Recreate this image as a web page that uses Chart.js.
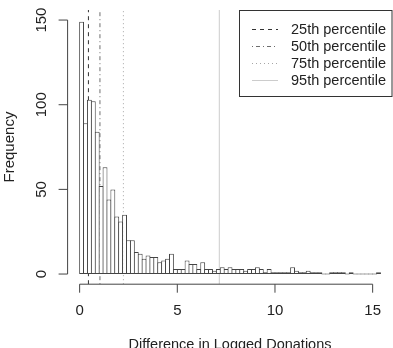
<!DOCTYPE html>
<html>
<head>
<meta charset="utf-8">
<script src="https://cdn.jsdelivr.net/npm/chart.js@4.4.0/dist/chart.umd.min.js"></script>
<style>
  html, body { margin: 0; padding: 0; background: #fff; }
  #wrap { width: 393px; height: 348px; }
</style>
</head>
<body>
<div id="wrap"><canvas id="hist" width="393" height="348"></canvas></div>
<script>
// histogram bins start at 0, width 0.2
const binWidth = 0.2;
const counts = [
  149, 89, 103, 102, 84, 52, 63, 44, 50, 34,
  31, 35, 20, 20, 13, 12, 9, 11, 10, 10,
  7, 8, 9, 12, 3, 3, 3, 8, 6, 6,
  3, 7, 3, 3, 2, 3, 4, 3, 4, 3,
  3, 3, 2, 3, 3, 4, 3, 1, 3, 1,
  1, 1, 1, 1, 4, 2, 1, 1, 2, 1,
  1, 1, 0, 0, 1, 1, 1, 1, 0, 1,
  0, 0, 0, 0, 0, 0, 1
];
const percentileLabels = ['25th percentile', '50th percentile', '75th percentile', '95th percentile'];
const percentileValues = [0.45, 1.04, 2.24, 7.15];
const xTicks = [0, 5, 10, 15];
const yTicks = [0, 50, 100, 150];
const xTitle = 'Difference in Logged Donations';
const yTitle = 'Frequency';

const lineCols = ['#333333', '#6e6e6e', '#a6a6a6', '#cccccc'];
const lineDash = [[4, 4], [1, 3, 4, 3], [1, 3], []];
const FONT = '"Liberation Sans", Arial, Helvetica, sans-serif';

const datasets = [{
  type: 'bar',
  label: 'counts',
  data: counts.map((c, i) => ({ x: (i + 0.5) * binWidth, y: c })),
  backgroundColor: '#ffffff',
  borderColor: '#444444',
  borderWidth: 1,
  borderSkipped: false,
  barPercentage: 1.25,
  categoryPercentage: 1,
  minBarLength: 1
}];
percentileValues.forEach((p, i) => {
  datasets.push({
    type: 'line',
    label: percentileLabels[i],
    data: [{ x: p, y: -6 }, { x: p, y: 156 }],
    borderColor: lineCols[i],
    borderDash: lineDash[i],
    borderWidth: 1,
    pointRadius: 0
  });
});

// base R look: detached axes, rotated y labels, boxed legend
const rStyle = {
  id: 'rStyle',
  afterDraw(chart) {
    const ctx = chart.ctx;
    const xs = chart.scales.x, ys = chart.scales.y;
    const area = chart.chartArea;
    ctx.save();
    ctx.strokeStyle = '#444';
    ctx.fillStyle = '#222';
    ctx.lineWidth = 1;

    // x axis
    const yAx = area.bottom;
    ctx.beginPath();
    ctx.moveTo(xs.getPixelForValue(xTicks[0]), yAx);
    ctx.lineTo(xs.getPixelForValue(xTicks[xTicks.length - 1]), yAx);
    xTicks.forEach(t => {
      const px = xs.getPixelForValue(t);
      ctx.moveTo(px, yAx);
      ctx.lineTo(px, yAx + 8.5);
    });
    ctx.stroke();
    ctx.font = '15px ' + FONT;
    ctx.textAlign = 'center';
    ctx.textBaseline = 'middle';
    xTicks.forEach(t => ctx.fillText(String(t), xs.getPixelForValue(t), 311));
    ctx.font = '14.5px ' + FONT;
    ctx.fillText(xTitle, (area.left + area.right) / 2, 345);
    ctx.font = '15px ' + FONT;

    // y axis
    const xAx = area.left;
    ctx.beginPath();
    ctx.moveTo(xAx, ys.getPixelForValue(yTicks[0]));
    ctx.lineTo(xAx, ys.getPixelForValue(yTicks[yTicks.length - 1]));
    yTicks.forEach(t => {
      const py = ys.getPixelForValue(t);
      ctx.moveTo(xAx, py);
      ctx.lineTo(xAx - 9, py);
    });
    ctx.stroke();
    yTicks.forEach(t => {
      ctx.save();
      ctx.translate(42, ys.getPixelForValue(t));
      ctx.rotate(-Math.PI / 2);
      ctx.fillText(String(t), 0, 0);
      ctx.restore();
    });
    ctx.save();
    ctx.translate(10, (area.top + area.bottom) / 2);
    ctx.rotate(-Math.PI / 2);
    ctx.fillText(yTitle, 0, 0);
    ctx.restore();

    // legend box
    const bx = 239.5, by = 10.5, bw = 152.5, bh = 86;
    ctx.strokeStyle = '#333';
    ctx.strokeRect(bx, by, bw, bh);
    ctx.font = '14.5px ' + FONT;
    ctx.textAlign = 'left';
    chart.data.datasets.slice(1).forEach((ds, i) => {
      const ry = 29.5 + i * 17;
      ctx.beginPath();
      ctx.setLineDash(ds.borderDash);
      ctx.strokeStyle = ds.borderColor;
      ctx.moveTo(252, ry);
      ctx.lineTo(278, ry);
      ctx.stroke();
      ctx.setLineDash([]);
      ctx.fillStyle = '#222';
      ctx.fillText(ds.label, 291, ry);
    });
    ctx.restore();
  }
};

new Chart(document.getElementById('hist'), {
  data: { datasets },
  options: {
    responsive: false,
    devicePixelRatio: 1,
    animation: false,
    layout: { padding: { left: 67.6, right: 0.5, top: 9.9, bottom: 63.8 } },
    plugins: { legend: { display: false }, tooltip: { enabled: false } },
    scales: {
      x: { type: 'linear', min: -0.616, max: 16.016, offset: false, display: false },
      y: { type: 'linear', min: -6, max: 156, display: false }
    }
  },
  plugins: [rStyle]
});
</script>
</body>
</html>
